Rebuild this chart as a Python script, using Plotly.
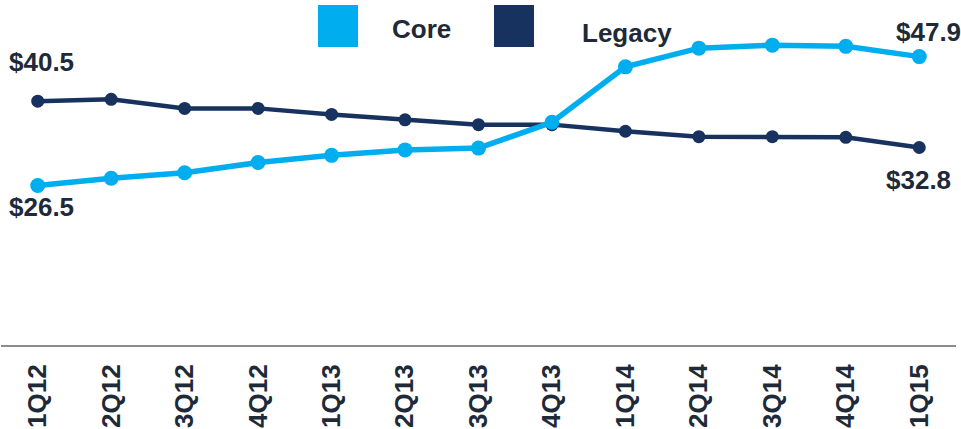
import plotly.graph_objects as go

quarters = ["1Q12", "2Q12", "3Q12", "4Q12", "1Q13", "2Q13", "3Q13", "4Q13",
            "1Q14", "2Q14", "3Q14", "4Q14", "1Q15"]
core = [26.5, 27.7, 28.6, 30.3, 31.5, 32.4, 32.7, 37.0, 46.2, 49.3, 49.8, 49.6, 47.9]
legacy = [40.5, 40.8, 39.3, 39.3, 38.3, 37.4, 36.6, 36.6, 35.5, 34.6, 34.6, 34.5, 32.8]

CORE_COLOR = "#00AEEF"
LEGACY_COLOR = "#17325E"
TEXT_COLOR = "#1E2A38"
FONT = "Liberation Sans, Arial, sans-serif"

ML, MR, MT, MB = 1, 5, 0, 84
W, H = 961.0, 429.0
PW, PH = W - ML - MR, H - MT - MB

fig = go.Figure()
fig.add_trace(go.Scatter(x=quarters, y=legacy, mode="lines+markers", name="Legacy",
                         line=dict(color=LEGACY_COLOR, width=4.5),
                         marker=dict(color=LEGACY_COLOR, size=13)))
fig.add_trace(go.Scatter(x=quarters, y=core, mode="lines+markers", name="Core",
                         line=dict(color=CORE_COLOR, width=5.5),
                         marker=dict(color=CORE_COLOR, size=15)))

lab = dict(font=dict(family=FONT, size=26, color=TEXT_COLOR), showarrow=False,
           xref="x", yref="y")
annotations = [
    dict(x=quarters[0], y=legacy[0], text="<b>$%.1f</b>" % legacy[0], yshift=39, xshift=4, **lab),
    dict(x=quarters[0], y=core[0], text="<b>$%.1f</b>" % core[0], yshift=-22, xshift=4, **lab),
    dict(x=quarters[-1], y=core[-1], text="<b>$%.1f</b>" % core[-1], yshift=25, xshift=9, **lab),
    dict(x=quarters[-1], y=legacy[-1], text="<b>$%.1f</b>" % legacy[-1], yshift=-32, xshift=-1, **lab),
]

# Custom legend (large square swatches), positioned in pixels of the page
def px(x):
    return (x - ML) / PW
def py(y):
    return 1 - (y - MT) / PH

shapes = []
legend_items = [("Core", CORE_COLOR, 318, 421, 29), ("Legacy", LEGACY_COLOR, 494, 627, 33)]
for name, color, sx, tx, ty in legend_items:
    shapes.append(dict(type="rect", xref="paper", yref="paper",
                       x0=px(sx), x1=px(sx + 40), y0=py(47), y1=py(5),
                       fillcolor=color, line=dict(width=0)))
    annotations.append(dict(x=px(tx), y=py(ty), xref="paper", yref="paper",
                            text="<b>%s</b>" % name, showarrow=False,
                            xanchor="center", yanchor="middle",
                            font=dict(family=FONT, size=26, color=TEXT_COLOR)))

fig.update_layout(
    width=961, height=429,
    margin=dict(l=ML, r=MR, t=MT, b=MB),
    paper_bgcolor="white", plot_bgcolor="white",
    showlegend=False,
    shapes=shapes,
    annotations=annotations,
    xaxis=dict(type="category", range=[-0.5, 12.5], showgrid=False, zeroline=False,
               showline=True, linecolor="#8C8C8C", linewidth=2,
               tickangle=-90, ticks="", ticklabelstandoff=7,
               tickfont=dict(family=FONT, size=26, color=TEXT_COLOR, weight="bold")),
    yaxis=dict(range=[0, 57.3], visible=False, showgrid=False, zeroline=False),
)

fig.write_html("out.html")
